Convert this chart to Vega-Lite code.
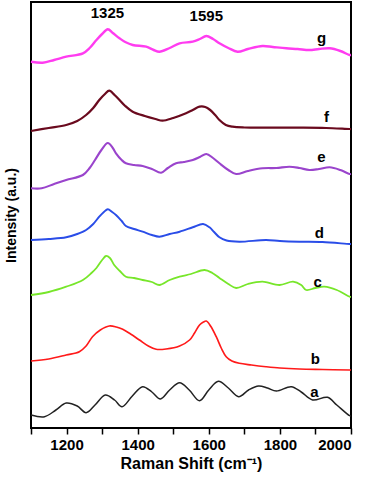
{
  "$schema": "https://vega.github.io/schema/vega-lite/v6.json",
  "width": 320,
  "height": 426,
  "autosize": {"type": "none"},
  "padding": {"left": 31, "top": 2, "right": 20, "bottom": 54},
  "background": "white",
  "config": {
    "view": {"stroke": "black", "strokeWidth": 2},
    "font": "Liberation Sans"
  },
  "datasets": {
    "spectra": [
      {"s":"a","x":1100,"y":13},{"s":"a","x":1138,"y":11.3},{"s":"a","x":1170,"y":18},{"s":"a","x":1199,"y":25},{"s":"a","x":1230,"y":22},{"s":"a","x":1255,"y":15.3},{"s":"a","x":1280,"y":23},{"s":"a","x":1309,"y":33},{"s":"a","x":1335,"y":28},{"s":"a","x":1356,"y":21.3},{"s":"a","x":1385,"y":32},{"s":"a","x":1414,"y":41.3},{"s":"a","x":1440,"y":36},{"s":"a","x":1464,"y":29},{"s":"a","x":1490,"y":38},{"s":"a","x":1518,"y":45.3},{"s":"a","x":1545,"y":38},{"s":"a","x":1574,"y":27.3},{"s":"a","x":1600,"y":38},{"s":"a","x":1627,"y":46.7},{"s":"a","x":1655,"y":40},{"s":"a","x":1684,"y":31.3},{"s":"a","x":1712,"y":38},{"s":"a","x":1740,"y":42},{"s":"a","x":1765,"y":40},{"s":"a","x":1790,"y":37},{"s":"a","x":1832,"y":41.3},{"s":"a","x":1860,"y":36},{"s":"a","x":1892,"y":28},{"s":"a","x":1934,"y":30.7},{"s":"a","x":1960,"y":23},{"s":"a","x":1996,"y":12.3},{"s":"a","x":2000,"y":12},
      {"s":"b","x":1100,"y":67},{"s":"b","x":1150,"y":69},{"s":"b","x":1199,"y":73},{"s":"b","x":1236,"y":76.3},{"s":"b","x":1255,"y":82},{"s":"b","x":1273,"y":91.3},{"s":"b","x":1295,"y":98},{"s":"b","x":1320,"y":102},{"s":"b","x":1340,"y":101},{"s":"b","x":1358,"y":98.7},{"s":"b","x":1380,"y":94},{"s":"b","x":1405,"y":88},{"s":"b","x":1430,"y":82},{"s":"b","x":1452,"y":78.7},{"s":"b","x":1480,"y":79},{"s":"b","x":1518,"y":82},{"s":"b","x":1546,"y":88},{"s":"b","x":1560,"y":95},{"s":"b","x":1574,"y":103},{"s":"b","x":1585,"y":106},{"s":"b","x":1593,"y":107},{"s":"b","x":1605,"y":102},{"s":"b","x":1621,"y":91.3},{"s":"b","x":1635,"y":80},{"s":"b","x":1649,"y":71.3},{"s":"b","x":1665,"y":67},{"s":"b","x":1686,"y":64.7},{"s":"b","x":1720,"y":63},{"s":"b","x":1761,"y":61.3},{"s":"b","x":1800,"y":60},{"s":"b","x":1855,"y":59},{"s":"b","x":1920,"y":58.5},{"s":"b","x":1996,"y":58},{"s":"b","x":2000,"y":58},
      {"s":"c","x":1100,"y":133},{"s":"c","x":1150,"y":136},{"s":"c","x":1199,"y":141.3},{"s":"c","x":1246,"y":148},{"s":"c","x":1270,"y":155},{"s":"c","x":1284,"y":160},{"s":"c","x":1300,"y":168},{"s":"c","x":1311,"y":172},{"s":"c","x":1322,"y":170},{"s":"c","x":1334,"y":163},{"s":"c","x":1350,"y":157},{"s":"c","x":1367,"y":151.3},{"s":"c","x":1390,"y":150},{"s":"c","x":1414,"y":148},{"s":"c","x":1440,"y":146},{"s":"c","x":1461,"y":143},{"s":"c","x":1490,"y":148},{"s":"c","x":1518,"y":151.3},{"s":"c","x":1550,"y":154},{"s":"c","x":1588,"y":158},{"s":"c","x":1610,"y":155},{"s":"c","x":1630,"y":150},{"s":"c","x":1655,"y":144},{"s":"c","x":1677,"y":140},{"s":"c","x":1710,"y":144},{"s":"c","x":1751,"y":146.3},{"s":"c","x":1799,"y":143},{"s":"c","x":1837,"y":146.3},{"s":"c","x":1860,"y":143},{"s":"c","x":1874,"y":138},{"s":"c","x":1900,"y":140},{"s":"c","x":1925,"y":141.3},{"s":"c","x":1960,"y":138},{"s":"c","x":1996,"y":131.3},{"s":"c","x":2000,"y":131},
      {"s":"d","x":1100,"y":188},{"s":"d","x":1150,"y":189},{"s":"d","x":1199,"y":190.7},{"s":"d","x":1230,"y":194},{"s":"d","x":1255,"y":198},{"s":"d","x":1275,"y":204},{"s":"d","x":1292,"y":211.3},{"s":"d","x":1305,"y":216},{"s":"d","x":1316,"y":218.7},{"s":"d","x":1328,"y":216},{"s":"d","x":1339,"y":213},{"s":"d","x":1355,"y":207},{"s":"d","x":1367,"y":202},{"s":"d","x":1390,"y":199},{"s":"d","x":1414,"y":196.3},{"s":"d","x":1440,"y":193},{"s":"d","x":1461,"y":191.3},{"s":"d","x":1490,"y":194},{"s":"d","x":1518,"y":196.3},{"s":"d","x":1555,"y":200.7},{"s":"d","x":1584,"y":204},{"s":"d","x":1602,"y":200.7},{"s":"d","x":1615,"y":196},{"s":"d","x":1630,"y":190.7},{"s":"d","x":1650,"y":187.5},{"s":"d","x":1686,"y":186.3},{"s":"d","x":1761,"y":188},{"s":"d","x":1800,"y":187},{"s":"d","x":1855,"y":186.3},{"s":"d","x":1920,"y":186},{"s":"d","x":1996,"y":184},{"s":"d","x":2000,"y":184},
      {"s":"e","x":1100,"y":239.7},{"s":"e","x":1130,"y":239.7},{"s":"e","x":1165,"y":244},{"s":"e","x":1199,"y":248},{"s":"e","x":1246,"y":253},{"s":"e","x":1265,"y":260},{"s":"e","x":1280,"y":268},{"s":"e","x":1298,"y":278},{"s":"e","x":1316,"y":285},{"s":"e","x":1330,"y":280},{"s":"e","x":1339,"y":274.7},{"s":"e","x":1355,"y":268},{"s":"e","x":1367,"y":264.7},{"s":"e","x":1390,"y":263},{"s":"e","x":1414,"y":262},{"s":"e","x":1440,"y":259},{"s":"e","x":1466,"y":255.3},{"s":"e","x":1485,"y":260},{"s":"e","x":1508,"y":264.7},{"s":"e","x":1530,"y":266},{"s":"e","x":1555,"y":268},{"s":"e","x":1575,"y":271},{"s":"e","x":1593,"y":274},{"s":"e","x":1612,"y":270},{"s":"e","x":1630,"y":264.7},{"s":"e","x":1655,"y":258},{"s":"e","x":1677,"y":254},{"s":"e","x":1710,"y":257},{"s":"e","x":1751,"y":259.7},{"s":"e","x":1790,"y":260},{"s":"e","x":1827,"y":261.3},{"s":"e","x":1855,"y":260},{"s":"e","x":1883,"y":258},{"s":"e","x":1910,"y":259},{"s":"e","x":1940,"y":260.7},{"s":"e","x":1970,"y":258},{"s":"e","x":1996,"y":254},{"s":"e","x":2000,"y":254},
      {"s":"f","x":1100,"y":297},{"s":"f","x":1150,"y":300},{"s":"f","x":1199,"y":303},{"s":"f","x":1230,"y":307},{"s":"f","x":1255,"y":313},{"s":"f","x":1275,"y":320},{"s":"f","x":1292,"y":328},{"s":"f","x":1308,"y":334},{"s":"f","x":1320,"y":337.3},{"s":"f","x":1335,"y":333},{"s":"f","x":1349,"y":328},{"s":"f","x":1365,"y":322},{"s":"f","x":1386,"y":316.3},{"s":"f","x":1420,"y":312},{"s":"f","x":1450,"y":309},{"s":"f","x":1470,"y":307.3},{"s":"f","x":1500,"y":310},{"s":"f","x":1536,"y":314.7},{"s":"f","x":1555,"y":318},{"s":"f","x":1574,"y":321.3},{"s":"f","x":1590,"y":321},{"s":"f","x":1604,"y":318},{"s":"f","x":1618,"y":313},{"s":"f","x":1630,"y":308},{"s":"f","x":1648,"y":303},{"s":"f","x":1667,"y":301.3},{"s":"f","x":1700,"y":300.5},{"s":"f","x":1761,"y":300.3},{"s":"f","x":1855,"y":300.3},{"s":"f","x":1930,"y":300},{"s":"f","x":1996,"y":299},{"s":"f","x":2000,"y":299},
      {"s":"g","x":1100,"y":366.3},{"s":"g","x":1133,"y":365.3},{"s":"g","x":1165,"y":368},{"s":"g","x":1199,"y":371.3},{"s":"g","x":1246,"y":374.7},{"s":"g","x":1265,"y":380},{"s":"g","x":1284,"y":388},{"s":"g","x":1300,"y":394},{"s":"g","x":1316,"y":398.7},{"s":"g","x":1330,"y":395},{"s":"g","x":1349,"y":389.7},{"s":"g","x":1365,"y":386},{"s":"g","x":1386,"y":383},{"s":"g","x":1424,"y":381.3},{"s":"g","x":1445,"y":378},{"s":"g","x":1461,"y":376.3},{"s":"g","x":1490,"y":380},{"s":"g","x":1518,"y":384.7},{"s":"g","x":1555,"y":386.3},{"s":"g","x":1575,"y":389},{"s":"g","x":1593,"y":392},{"s":"g","x":1612,"y":389},{"s":"g","x":1630,"y":384.7},{"s":"g","x":1655,"y":380},{"s":"g","x":1681,"y":376.3},{"s":"g","x":1710,"y":379},{"s":"g","x":1751,"y":382},{"s":"g","x":1780,"y":381},{"s":"g","x":1818,"y":379.7},{"s":"g","x":1850,"y":379},{"s":"g","x":1883,"y":378},{"s":"g","x":1910,"y":379},{"s":"g","x":1940,"y":379.7},{"s":"g","x":1970,"y":377},{"s":"g","x":1996,"y":373},{"s":"g","x":2000,"y":373}
    ],
    "labels": [
      {"t":"1325","x":1315,"y":415},
      {"t":"1595","x":1593,"y":412},
      {"t":"g","x":1917,"y":390},
      {"t":"f","x":1931,"y":311},
      {"t":"e","x":1917,"y":271},
      {"t":"d","x":1911,"y":195},
      {"t":"c","x":1906,"y":146},
      {"t":"b","x":1900,"y":69},
      {"t":"a","x":1897,"y":36}
    ]
  },
  "encoding": {
    "x": {
      "field": "x", "type": "quantitative",
      "scale": {"domain": [1100, 2000], "nice": false, "zero": false},
      "axis": {
        "title": "Raman Shift (cm⁻¹)",
        "values": [1100,1200,1300,1400,1500,1600,1700,1800,1900,2000],
        "labelExpr": "datum.value % 200 == 0 ? datum.label : ''",
        "format": "d",
        "grid": false, "domain": false,
        "tickSize": 6, "tickWidth": 1.5, "tickColor": "black",
        "labelFont": "Liberation Sans", "labelFontSize": 15, "labelFontWeight": "bold", "labelColor": "black", "labelPadding": 3,
        "titleFont": "Liberation Sans", "titleFontSize": 16, "titleFontWeight": "bold", "titleColor": "black", "titlePadding": 3
      }
    },
    "y": {
      "field": "y", "type": "quantitative",
      "scale": {"domain": [0, 426], "nice": false, "zero": false},
      "axis": {
        "title": "Intensity (a.u.)",
        "ticks": false, "labels": false, "grid": false, "domain": false,
        "titleFont": "Liberation Sans", "titleFontSize": 14, "titleFontWeight": "bold", "titleColor": "black", "titlePadding": 13
      }
    }
  },
  "layer": [
    {
      "data": {"name": "spectra"},
      "mark": {"type": "line", "interpolate": "catmull-rom"},
      "encoding": {
        "color": {
          "field": "s", "type": "nominal", "legend": null,
          "scale": {"domain": ["a","b","c","d","e","f","g"], "range": ["#222222","#ff1a1a","#77e62a","#2a4de8","#9a44cc","#6a0a1e","#ff3cf0"]}
        },
        "strokeWidth": {
          "field": "s", "type": "nominal", "legend": null,
          "scale": {"domain": ["a","b","c","d","e","f","g"], "range": [1.5, 2.4, 2.2, 3, 2, 3, 2.4]}
        }
      }
    },
    {
      "data": {"name": "labels"},
      "mark": {"type": "text", "font": "Liberation Sans", "fontSize": 15, "fontWeight": "bold", "color": "black", "baseline": "middle", "align": "center"},
      "encoding": {"text": {"field": "t", "type": "nominal"}}
    }
  ]
}
